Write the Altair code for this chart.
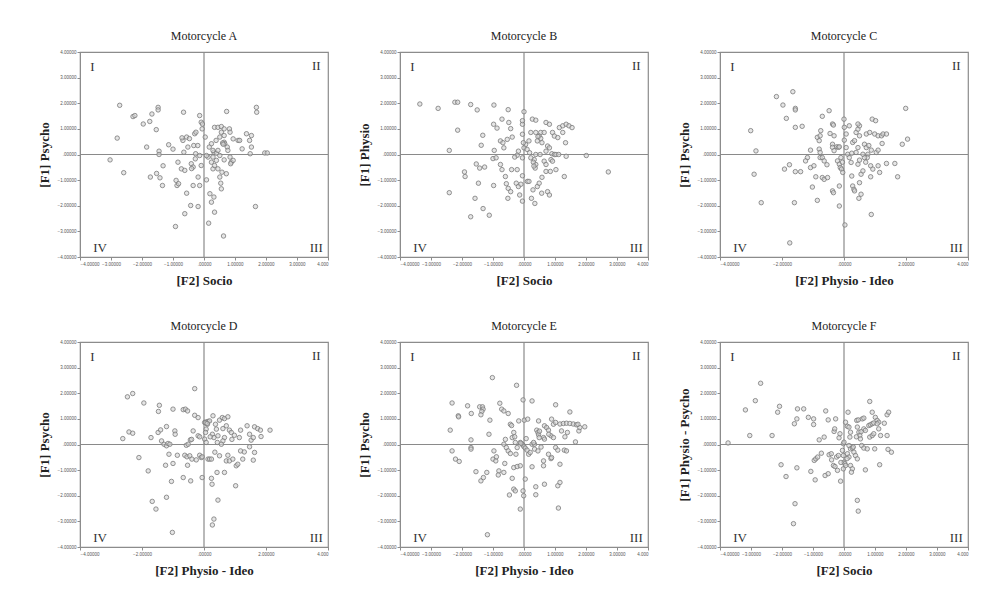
import altair as alt
import pandas as pd

# Factor scores (F2, F1) per respondent for each motorcycle
A_pts = [(-2.72,1.92),(-2.80,0.64),(-3.03,-0.21),(-2.59,-0.71),(-2.29,1.48),(-2.23,1.52),(-1.96,1.19),(-1.75,1.29),(-1.68,1.58),(-1.48,1.84),
         (-1.48,1.74),(-1.54,0.97),(-1.85,0.29),(-1.45,0.13),(-1.45,0.00),(-1.73,-0.88),(-1.53,-0.74),(-1.42,-0.91),(-1.34,-1.21),(-1.32,-0.44),
         (-1.14,0.38),(-1.00,0.21),(-0.84,-0.30),(-0.73,-0.56),(-0.90,-1.01),(-0.87,-1.21),(-0.82,-1.14),(-0.66,1.65),(-0.68,0.55),(-0.71,0.65),
         (-0.56,0.68),(-0.65,0.09),(-0.62,-0.62),(-0.56,-1.51),(-0.62,-2.31),(-0.92,-2.81),(-0.43,-1.99),(-0.19,-2.03),(-0.35,-1.21),(-0.52,0.29),
         (-0.30,0.81),(-0.26,0.87),(-0.14,1.52),(-0.09,1.26),(-0.05,1.19),(-0.06,1.00),(0.04,0.68),(-0.33,0.35),(-0.27,0.03),(-0.41,-0.36),
         (-0.35,-0.49),(-0.28,-0.17),(-0.14,-0.04),(-0.19,-0.88),(-0.14,-1.21),(-0.09,-0.43),(0.08,-0.99),(0.19,-1.53),(0.24,-1.86),(0.32,-1.66),
         (0.15,-2.68),(0.34,-2.25),(0.63,-3.18),(0.34,1.06),(0.45,1.06),(0.56,1.09),(0.65,1.00),(0.73,1.68),(0.82,1.00),(0.84,0.87),
         (0.56,0.87),(0.65,0.74),(0.51,0.68),(0.39,0.55),(0.24,0.42),(0.17,0.29),(0.65,0.48),(0.67,0.42),(0.75,0.29),(0.94,0.61),
         (1.10,0.55),(1.15,0.55),(1.23,0.22),(1.37,0.81),(1.53,0.74),(1.47,0.55),(1.53,0.29),(1.49,0.03),(1.69,1.84),(1.70,1.65),
         (1.96,0.06),(2.04,0.06),(1.66,-2.03),(0.32,0.09),(0.40,0.05),(0.45,0.16),(0.51,-0.04),(0.77,0.16),(0.84,-0.10),(0.88,-0.30),
         (0.94,-0.23),(0.86,-0.36),(0.65,-0.21),(0.58,-0.69),(0.72,-0.75),(0.45,-0.56),(0.51,-0.88),(0.54,-1.12),(0.56,-1.34),(0.29,-0.56),
         (0.34,-0.43),(0.13,-0.10),(0.08,-0.04),(0.29,-0.10),(0.24,-0.30),(0.40,-0.23),(0.29,0.16),(-0.47,0.62),(-0.40,-0.55),(-0.20,0.35),
         (0.60,0.45),(0.62,0.40)]

B_pts = [(-3.36,1.97),(-2.77,1.80),(-2.23,2.04),(-2.14,2.04),(-1.72,1.95),(-1.51,1.74),(-2.14,0.95),(-2.41,0.16),(-1.33,0.75),(-1.38,0.36),
         (-0.97,1.93),(-0.51,1.75),(-0.71,1.38),(-0.49,1.25),(-0.98,1.18),(-0.87,1.03),(-0.43,1.01),(-0.38,0.68),(-0.54,0.59),(-0.76,0.53),
         (-0.68,0.46),(-0.65,0.26),(-0.96,0.16),(-1.00,-0.16),(-0.90,-0.13),(-1.54,-0.37),(-1.43,-0.53),(-1.27,-0.49),(-1.92,-0.68),(-1.90,-0.86),
         (-1.47,-1.12),(-1.58,-1.71),(-2.41,-1.49),(-1.32,-2.11),(-1.72,-2.43),(-1.12,-2.37),(-0.98,-1.21),(-0.76,-0.39),(-0.71,-0.59),(-0.60,-0.86),
         (-0.57,-1.14),(-0.51,-1.32),(-0.43,-1.45),(-0.52,-1.71),(-0.40,-0.59),(-0.22,-0.59),(-0.25,-1.12),(-0.18,-1.25),(-0.10,-1.16),(-0.14,-1.58),
         (-0.05,-1.82),(-0.05,-0.83),(0.11,-1.05),(0.16,-1.05),(0.24,-1.71),(0.35,-1.91),(0.29,-1.38),(0.43,-1.25),(0.57,-1.51),(0.76,-1.45),
         (0.82,-1.58),(0.49,-1.12),(0.58,-0.89),(0.71,-0.66),(0.85,-0.66),(0.38,-0.39),(0.36,-0.53),(0.33,-0.20),(0.22,-0.13),(0.38,0.00),
         (0.52,0.00),(0.18,0.07),(0.05,0.39),(0.00,0.26),(-0.18,0.13),(-0.22,-0.03),(-0.05,-0.13),(-0.02,0.46),(-0.05,0.79),(-0.05,1.18),
         (-0.05,1.32),(0.00,1.67),(0.27,1.38),(0.38,1.34),(0.22,0.86),(0.38,0.86),(0.54,0.86),(0.65,0.86),(0.49,0.72),(0.54,0.63),
         (0.58,0.46),(0.43,0.53),(0.16,0.53),(0.71,1.25),(0.82,1.18),(0.92,0.86),(0.98,0.72),(1.09,0.66),(0.76,0.33),(0.82,0.26),
         (0.71,0.13),(0.90,0.03),(0.98,0.00),(1.03,0.00),(1.12,0.00),(0.87,-0.20),(0.92,-0.26),(1.03,-0.59),(1.30,-0.86),(1.36,-0.07),
         (1.14,1.05),(1.25,1.12),(1.36,1.18),(1.45,1.12),(1.55,1.05),(1.25,0.86),(1.34,0.46),(2.01,-0.04),(2.72,-0.68),(0.65,-0.26),
         (0.71,-0.39),(0.30,-0.30),(0.32,-0.45),(-0.30,-0.10),(0.10,0.20),(0.45,0.70)]

C_pts = [(-1.65,2.45),(-2.18,2.26),(-1.97,1.93),(-1.57,1.80),(-1.57,1.74),(-1.86,1.41),(-1.57,1.06),(-1.35,1.10),(-3.01,0.93),(-2.84,0.14),
         (-2.90,-0.77),(-2.67,-1.88),(-1.60,-1.88),(-1.75,-3.45),(-1.92,-0.57),(-1.76,-0.40),(-1.57,-0.67),(-1.40,-0.67),(-1.08,0.17),(-1.18,-0.12),
         (-1.24,-0.25),(-1.08,-0.51),(-0.97,-0.44),(-0.91,-0.87),(-1.02,-1.27),(-0.86,-1.79),(-0.70,-0.90),(-0.64,-0.97),(-0.53,-0.90),(-0.77,-0.12),
         (-0.70,-0.12),(-0.80,0.21),(-0.77,0.08),(-0.86,0.67),(-0.80,0.54),(-0.77,0.73),(-0.75,0.93),(-0.70,1.49),(-0.48,1.71),(-0.37,1.19),
         (-0.34,1.15),(-0.45,0.82),(-0.32,0.73),(-0.37,0.40),(-0.23,0.30),(-0.18,0.28),(-0.64,-0.25),(-0.55,-0.40),(-0.37,-1.42),(-0.34,-1.49),
         (-0.15,-1.23),(-0.15,-2.01),(0.03,-2.75),(-0.21,-0.25),(-0.15,-0.38),(-0.12,-0.51),(-0.08,-0.57),(-0.04,-0.70),(-0.10,-0.12),(0.00,1.38),
         (0.01,1.06),(0.07,0.80),(0.17,1.12),(0.01,0.56),(0.07,0.27),(0.12,0.01),(0.17,-0.12),(0.23,-0.31),(0.25,-0.84),(0.28,-1.23),
         (0.32,-1.36),(0.34,-1.42),(0.48,-1.71),(0.55,-1.55),(0.50,-1.10),(0.55,-0.77),(0.61,-0.64),(0.45,-0.38),(0.50,-0.22),(0.39,0.08),
         (0.45,0.27),(0.28,0.47),(0.34,0.54),(0.39,0.86),(0.45,0.99),(0.50,1.12),(0.45,1.19),(0.50,0.73),(0.72,0.80),(0.83,0.86),
         (0.91,1.38),(1.02,1.32),(0.99,0.80),(1.10,0.73),(1.21,0.73),(1.26,0.80),(1.37,0.80),(1.23,0.43),(0.66,0.40),(0.72,0.27),
         (0.77,0.01),(0.75,-0.12),(0.88,0.17),(1.04,0.08),(1.10,0.17),(0.86,-0.44),(0.93,-0.57),(0.86,-0.87),(1.10,-0.44),(1.15,-0.70),
         (1.37,-0.35),(1.64,-0.35),(1.73,-0.87),(1.88,0.40),(2.05,0.60),(1.99,1.80),(0.88,-2.34),(-0.37,0.28),(-0.32,0.15),(0.66,-0.12),
         (0.61,0.01),(-0.15,0.30),(0.25,0.05),(-0.05,-0.30),(0.80,0.35),(0.70,-0.30)]

D_pts = [(-2.62,0.23),(-2.47,1.86),(-2.30,1.99),(-2.42,0.49),(-2.30,0.44),(-1.94,1.62),(-2.10,-0.51),(-1.80,-1.03),(-1.67,-2.22),(-1.55,-2.52),
         (-1.02,-3.43),(-1.71,0.27),(-1.48,0.47),(-1.40,0.57),(-1.44,1.53),(-1.47,1.29),(-1.21,0.70),(-1.37,0.14),(-1.29,0.01),(-1.21,-0.05),
         (-1.16,0.04),(-1.10,0.01),(-1.13,-0.38),(-1.24,-0.81),(-1.00,-0.74),(-1.05,-1.44),(-1.21,-2.06),(-1.00,1.38),(-0.94,0.53),(-0.93,0.40),
         (-0.86,-0.42),(-0.67,1.36),(-0.60,1.38),(-0.53,1.31),(-0.67,-1.29),(-0.43,-1.42),(-0.53,-0.81),(-0.62,-0.42),(-0.55,-0.48),(-0.46,-0.44),
         (-0.39,-0.57),(-0.57,-0.03),(-0.51,0.01),(-0.44,0.18),(-0.35,0.53),(-0.30,2.18),(-0.30,1.14),(-0.19,1.05),(-0.19,0.34),(-0.14,0.30),
         (-0.14,-0.42),(-0.09,-0.51),(-0.06,-0.48),(-0.06,-1.29),(0.02,0.86),(0.07,0.88),(0.13,0.90),(0.18,0.92),(0.11,0.79),(0.07,0.60),
         (0.05,0.47),(0.02,0.21),(0.07,0.08),(0.13,-0.57),(0.18,-0.57),(0.24,-0.57),(0.24,-1.32),(0.26,-1.55),(0.32,-2.91),(0.27,-3.14),
         (0.45,-2.17),(0.42,-1.09),(0.29,1.12),(0.37,0.79),(0.40,0.60),(0.27,0.40),(0.32,0.27),(0.45,0.34),(0.43,0.08),(0.50,0.95),
         (0.59,1.05),(0.66,1.01),(0.77,1.08),(0.61,0.62),(0.72,0.73),(0.82,0.56),(0.88,0.47),(0.66,0.27),(0.61,0.14),(0.56,0.01),
         (0.50,-0.44),(0.66,-1.09),(0.72,-0.64),(0.82,-0.64),(0.93,-0.57),(0.77,-0.42),(1.04,-0.83),(1.09,-0.77),(1.02,-1.61),(0.98,0.36),
         (1.18,0.56),(1.14,0.27),(1.18,-0.25),(1.30,-0.29),(1.39,0.73),(1.47,0.40),(1.52,0.17),(1.47,-0.09),(1.63,0.69),(1.73,0.62),
         (1.59,0.27),(1.63,-0.31),(1.82,0.56),(1.84,0.31),(1.59,-0.61),(2.13,0.56),(1.25,-0.57),(0.05,0.85),(0.10,0.82),(-0.40,0.20),
         (0.20,0.30),(0.35,-0.30),(-0.25,-0.60),(0.90,0.20)]

E_pts = [(-1.02,2.61),(-0.24,2.31),(-2.32,1.62),(-1.82,1.51),(-2.12,1.12),(-2.11,1.08),(-1.70,1.21),(-1.43,1.47),(-1.34,1.47),(-1.32,1.38),
         (-1.36,1.29),(-1.39,1.16),(-1.10,0.95),(-0.78,1.61),(-0.72,1.38),(-0.65,1.31),(-0.51,1.21),(-0.44,0.79),(-0.40,0.74),(-0.03,1.74),
         (0.26,1.70),(-0.17,0.92),(0.01,0.95),(0.12,0.99),(-2.38,0.56),(-2.32,-0.25),(-2.21,-0.57),(-2.09,-0.66),(-1.71,0.18),(-1.71,-0.12),
         (-1.71,-0.18),(-1.13,0.40),(-0.97,-0.25),(-1.55,-1.06),(-1.39,-1.42),(-1.31,-1.29),(-1.20,-1.09),(-1.18,-3.52),(-1.00,-0.57),(-0.91,-0.64),
         (-0.89,-0.48),(-0.81,-1.03),(-0.83,-1.19),(-0.65,-1.09),(-0.65,0.01),(-0.57,-0.12),(-0.51,-0.25),(-0.44,-0.35),(-0.62,-0.74),(-0.47,-1.97),
         (-0.33,-1.74),(-0.28,-1.81),(-0.38,-1.32),(-0.33,-0.90),(-0.22,-0.86),(-0.12,-0.83),(-0.12,-2.52),(-0.03,-1.81),(-0.01,-2.00),(0.04,-1.35),
         (-0.38,0.27),(-0.33,0.47),(-0.30,0.30),(-0.28,0.08),(-0.22,-0.12),(-0.26,-0.38),(-0.12,0.08),(-0.06,0.01),(-0.03,-0.03),(0.00,-0.09),
         (0.04,-0.14),(0.10,-0.22),(0.15,-0.38),(0.20,-0.31),(0.26,0.01),(0.34,0.01),(0.31,0.08),(0.26,-0.87),(0.38,-1.65),(0.38,-1.96),
         (0.66,-1.55),(0.34,-0.18),(0.45,-0.25),(0.07,0.23),(0.41,0.56),(0.45,0.47),(0.47,0.38),(0.49,0.27),(0.47,0.92),(0.66,0.73),
         (0.73,0.66),(0.79,0.56),(0.63,0.27),(0.66,0.21),(0.63,-0.64),(0.63,-0.83),(0.79,-0.38),(0.87,-0.55),(0.89,-0.51),(0.89,0.99),
         (0.95,0.79),(1.02,0.86),(1.02,1.55),(0.87,0.34),(0.95,0.27),(1.02,-0.12),(1.09,-0.22),(1.16,-0.77),(1.09,-1.61),(1.16,-1.48),
         (1.11,-2.48),(1.16,0.80),(1.27,0.82),(1.37,0.83),(1.48,0.82),(1.59,0.80),(1.69,0.77),(1.32,0.30),(1.40,0.47),(1.21,0.53),
         (1.30,-0.22),(1.37,-0.25),(1.48,1.27),(1.66,0.10),(1.77,0.53),(1.80,0.66),(1.96,0.69),(1.74,0.79),(-0.10,0.05),(0.50,0.52),
         (-0.60,0.20),(0.80,0.40),(0.55,-0.10)]

F_pts = [(-3.74,0.06),(-3.18,1.35),(-3.04,0.35),(-2.86,1.71),(-2.69,2.39),(-2.32,0.35),(-2.14,1.26),(-2.08,1.49),(-2.03,-0.79),(-1.87,-1.25),
         (-1.60,0.81),(-1.52,1.00),(-1.50,1.39),(-1.52,-0.91),(-1.58,-2.31),(-1.63,-3.09),(-1.30,1.39),(-1.15,1.06),(-0.98,1.00),(-0.98,0.78),
         (-1.07,-1.05),(-0.93,-1.38),(-0.96,-0.62),(-0.91,-0.56),(-0.85,-0.49),(-0.80,0.18),(-0.73,-0.34),(-0.64,0.29),(-0.59,1.31),(-0.51,0.96),
         (-0.61,-1.21),(-0.51,-1.14),(-0.48,-0.40),(-0.41,-0.36),(-0.34,-0.82),(-0.29,-0.86),(-0.32,0.51),(-0.30,0.61),(-0.27,1.00),(-0.21,-1.01),
         (-0.11,-1.43),(-0.16,0.26),(-0.13,0.42),(-0.24,-0.49),(-0.18,-0.43),(-0.02,0.03),(0.00,0.09),(-0.05,-0.23),(-0.02,-0.43),(0.00,-0.69),
         (0.03,-0.75),(0.05,-0.82),(-0.02,-0.95),(0.05,0.87),(0.13,1.26),(0.11,0.71),(0.16,0.68),(0.21,0.48),(0.19,0.29),(0.16,-0.04),
         (0.21,-0.17),(0.27,-0.14),(0.11,-0.36),(0.16,-0.49),(0.21,-0.82),(0.27,-0.95),(0.24,-1.08),(0.32,-0.30),(0.37,-0.43),(0.43,-0.56),
         (0.43,-2.18),(0.46,-2.60),(0.41,0.94),(0.46,0.96),(0.43,0.68),(0.48,0.48),(0.51,0.35),(0.53,0.22),(0.59,1.00),(0.64,1.03),
         (0.64,0.61),(0.69,0.55),(0.57,-0.04),(0.64,-0.14),(0.69,-0.99),(0.75,-0.17),(0.80,0.74),(0.85,0.77),(0.91,0.81),(0.96,0.84),
         (0.83,1.68),(0.91,1.26),(0.83,0.29),(0.91,0.35),(0.96,0.42),(1.01,1.06),(1.07,0.94),(1.12,0.87),(1.07,0.81),(1.12,0.61),
         (1.18,0.35),(0.99,-0.17),(1.15,-0.79),(1.30,0.83),(1.39,1.16),(1.44,1.26),(1.39,0.35),(1.42,-0.19),(1.53,-0.30),(0.40,0.30),
         (0.30,-0.10),(-0.40,-0.60),(0.55,0.50),(0.10,-0.55),(-0.10,-0.70)]

# Quadrant numerals placed in data space
quad_x = [-3.60, 3.62, 3.62, -3.35]
quad_y = [3.40, 3.45, -3.65, -3.65]
quad_t = ["I", "II", "III", "IV"]

panels = [
    ("Motorcycle A", A_pts, "[F2] Socio", "[F1] Psycho", 1),
    ("Motorcycle B", B_pts, "[F2] Socio", "[F1] Physio", 1),
    ("Motorcycle C", C_pts, "[F2] Physio - Ideo", "[F1] Psycho", 2),
    ("Motorcycle D", D_pts, "[F2] Physio - Ideo", "[F1] Psycho", 2),
    ("Motorcycle E", E_pts, "[F2] Physio - Ideo", "[F1] Psycho", 1),
    ("Motorcycle F", F_pts, "[F2] Socio", "[F1] Physio - Psycho", 1),
]

SERIF = "Liberation Serif"
W, H = 248, 205


def build(title, pts, xtitle, ytitle, xstep):
    scale = alt.Scale(domain=[-4, 4], nice=False, zero=False)
    xvals = list(range(-4, 5, xstep))
    xaxis = alt.Axis(values=xvals, title=xtitle, grid=False, titlePadding=9,
                     labelExpr="datum.value == 0 ? '.00000' : (datum.value == 4 ? '4.000' : format(datum.value, '.5f'))")
    yaxis = alt.Axis(values=list(range(-4, 5)), title=ytitle, grid=False, titlePadding=6,
                     labelExpr="datum.value == 0 ? '.00000' : format(datum.value, '.5f')")

    def xe():
        return alt.X("x:Q", scale=scale, axis=xaxis)

    def ye():
        return alt.Y("y:Q", scale=scale, axis=yaxis)

    df = pd.DataFrame(pts, columns=["x", "y"])
    points = alt.Chart(df).mark_point(
        shape="circle", filled=True, fill="#d4d4d4", fillOpacity=0.6,
        stroke="#7a7a7a", strokeWidth=0.8, size=20,
    ).encode(x=xe(), y=ye())

    vline = alt.Chart(pd.DataFrame({"x": [0]})).mark_rule(
        color="#8a8a8a", strokeWidth=1.2).encode(x=xe())
    hline = alt.Chart(pd.DataFrame({"y": [0]})).mark_rule(
        color="#8a8a8a", strokeWidth=1.2).encode(y=ye())

    quads = alt.Chart(pd.DataFrame({"x": quad_x, "y": quad_y, "t": quad_t})).mark_text(
        font=SERIF, fontSize=13, color="#333"
    ).encode(x=xe(), y=ye(), text="t:N")

    return alt.layer(vline, hline, points, quads).properties(
        width=W, height=H,
        title=alt.TitleParams(title, anchor="middle"),
    )


charts = [build(*p) for p in panels]
top = alt.hconcat(*charts[:3], spacing=72, bounds="flush")
bottom = alt.hconcat(*charts[3:], spacing=72, bounds="flush")

chart = alt.vconcat(top, bottom, spacing=30).properties(
    padding={"left": 37, "top": 29, "right": 5, "bottom": 5},
    background="white",
).configure_view(
    stroke="#8c8c8c", strokeWidth=1.2,
).configure_axis(
    labelFontSize=4.5, labelColor="#555", labelFont="Liberation Sans",
    tickColor="#8c8c8c", domainColor="#8c8c8c", tickSize=3, labelPadding=1,
    titleFont=SERIF, titleFontSize=13, titleFontWeight="bold", titleColor="#222",
).configure_title(
    font=SERIF, fontSize=12, fontWeight="normal", color="#222", offset=6,
)

chart.save("out.html", embed_options={"renderer": "svg", "actions": False})
